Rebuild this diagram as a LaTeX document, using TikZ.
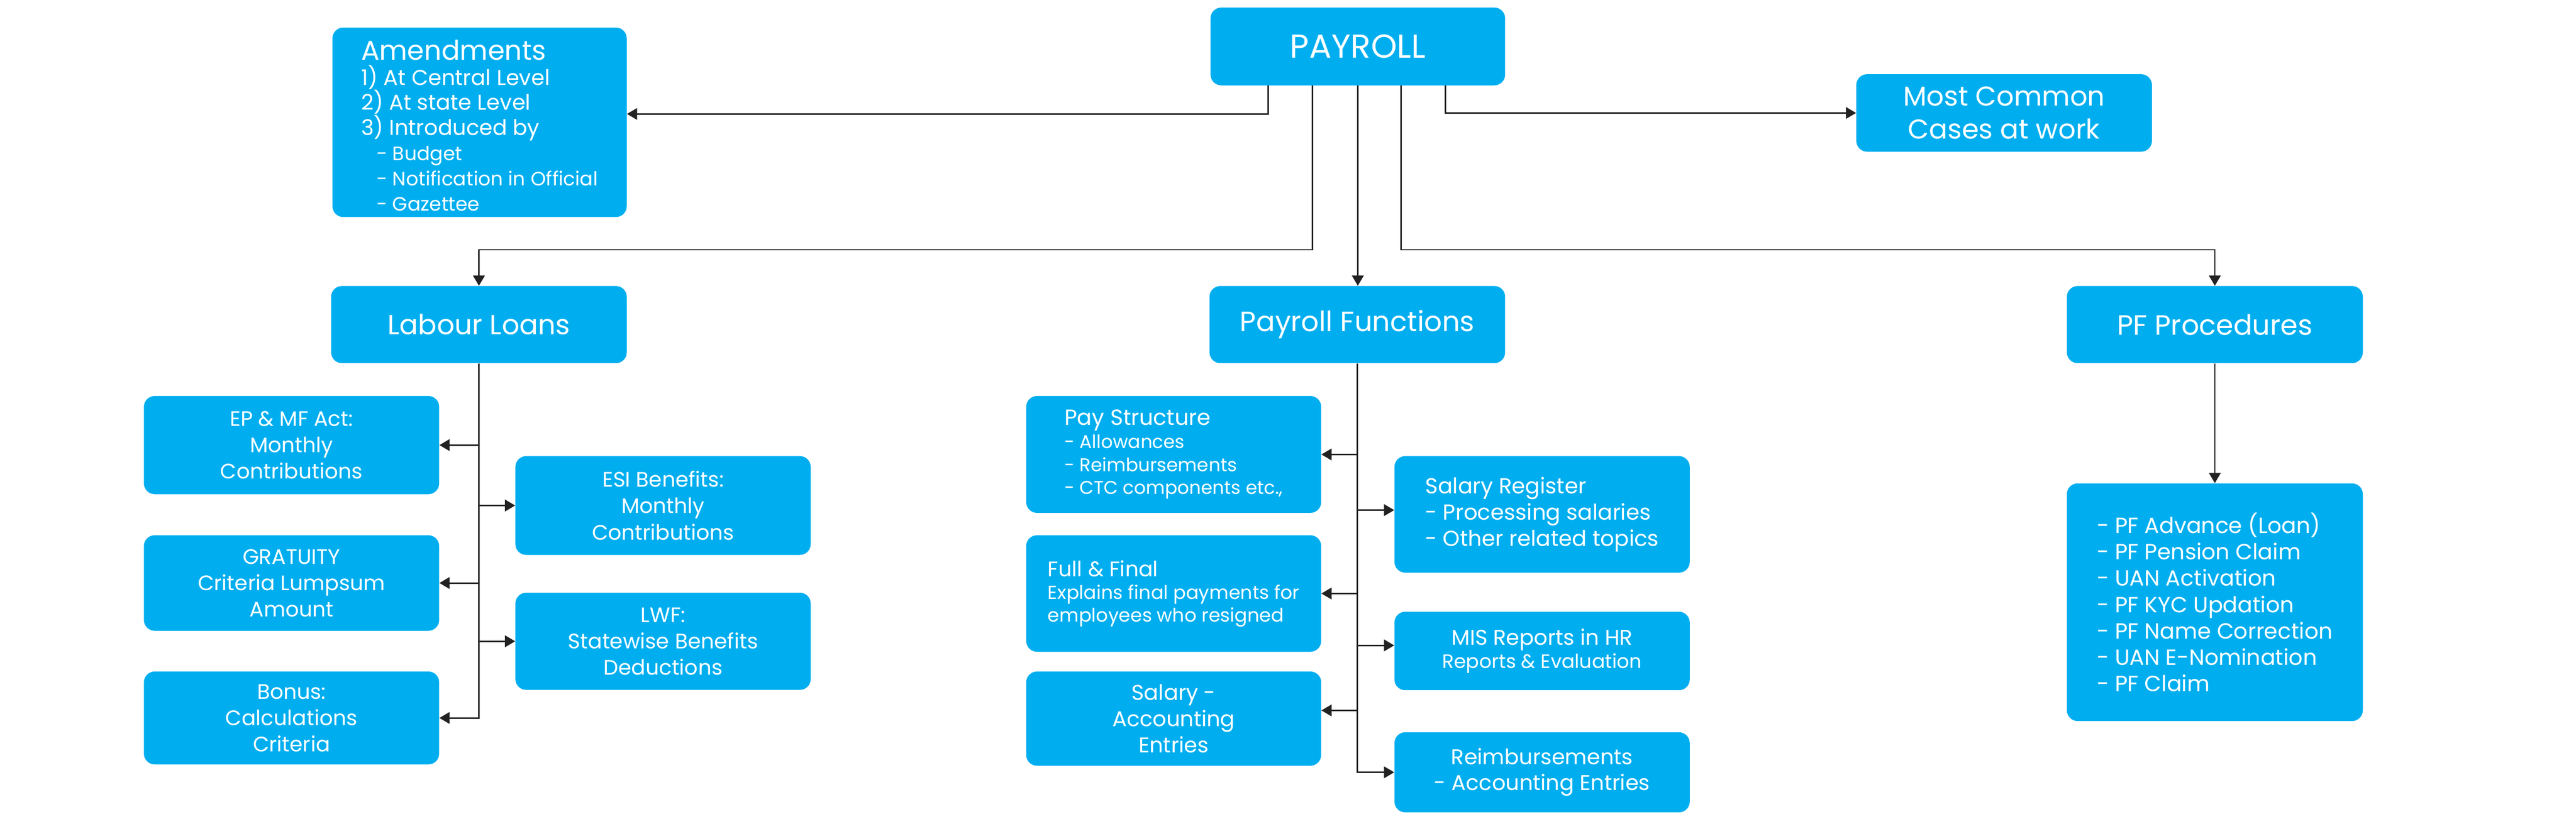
\documentclass[tikz,border=0pt]{standalone}
\usepackage{fontspec}
\setmainfont{Poppins}
\usetikzlibrary{arrows.meta}
\definecolor{boxblue}{HTML}{00AEEF}
\definecolor{linegray}{HTML}{222222}
\newcommand\fsz[2]{\fontsize{#1pt}{#2pt}\selectfont}

\begin{document}
\begin{tikzpicture}
  \tikzset{BoxStyle/.style = {
  shape = rectangle,
  rounded corners = 0.33cm,
  fill = boxblue,
  text = white,
  inner sep = 0pt,
  align = center},
  LinkStyle/.style = {
  draw = linegray,
  line width = 1.3pt,
  -{Triangle[length=8.8pt, width=10pt]}}}
  \useasboundingbox (0,0) rectangle (78.42,-25.09);
  % top row
  \node[BoxStyle, minimum width=8.97cm, minimum height=2.37cm, font=\fsz{28.7}{34}] (payroll) at (41.335,-1.415) {PAYROLL};
  \node[BoxStyle, align=left, minimum width=8.96cm, minimum height=5.77cm, font=\fsz{16.8}{21.8}] (amend) at (14.60,-3.725)
    {{\fsz{23.5}{21.8}\rule{0pt}{0.8cm}Amendments}\\{\fsz{18.6}{21.8}1) At Central Level}\\{\fsz{18.6}{21.8}2) At state Level}\\
     {\fsz{18.6}{21.8}3) Introduced by}\\\hspace*{0.47cm}- Budget\\\hspace*{0.47cm}- Notification in Official\\\hspace*{0.47cm}- Gazettee};
  \node[BoxStyle, minimum width=9.0cm, minimum height=2.36cm, font=\fsz{23.6}{28.5}] (cases) at (61.01,-3.44) {Most Common\\Cases at work};
  % second row
  \node[BoxStyle, minimum width=9.0cm, minimum height=2.35cm, font=\fsz{23.9}{29}] (labour) at (14.58,-9.885) {Labour Loans};
  \node[BoxStyle, minimum width=9.0cm, minimum height=2.35cm, font=\fsz{24.2}{29}] (pfunc) at (41.32,-9.885) {Payroll Functions};
  \node[BoxStyle, minimum width=9.01cm, minimum height=2.35cm, font=\fsz{24.2}{29}] (pfproc) at (67.425,-9.885) {PF Procedures};
  \node[BoxStyle, align=left, minimum width=9.01cm, minimum height=7.24cm, font=\fsz{19}{22.8}] (pflist) at (67.425,-18.34)
    {- PF Advance (Loan)\\- PF Pension Claim\\- UAN Activation\\- PF KYC Updation\\- PF Name Correction\\- UAN E-Nomination\\- PF Claim};
  % labour loans
  \node[BoxStyle, minimum width=8.99cm, minimum height=2.99cm, font=\fsz{18.2}{22.8}] (epmf) at (8.875,-13.555) {EP \& MF Act:\\Monthly\\Contributions};
  \node[BoxStyle, minimum width=8.99cm, minimum height=3.01cm, font=\fsz{18.2}{22.8}] (esi) at (20.185,-15.395) {ESI Benefits:\\Monthly\\Contributions};
  \node[BoxStyle, minimum width=8.99cm, minimum height=2.91cm, font=\fsz{18.2}{22.8}] (grat) at (8.875,-17.755) {GRATUITY\\Criteria Lumpsum\\Amount};
  \node[BoxStyle, minimum width=8.99cm, minimum height=2.96cm, font=\fsz{18.2}{22.8}] (lwf) at (20.185,-19.53) {LWF:\\Statewise Benefits\\Deductions};
  \node[BoxStyle, minimum width=8.99cm, minimum height=2.83cm, font=\fsz{18.2}{22.8}] (bonus) at (8.875,-21.865) {Bonus:\\Calculations\\Criteria};
  % payroll functions
  \node[BoxStyle, align=left, minimum width=8.98cm, minimum height=3.56cm, font=\fsz{16}{19.9}] (pays) at (35.73,-13.84)
    {{\fsz{19}{19.9}Pay Structure}\\- Allowances\\- Reimbursements\\- CTC components etc.,};
  \node[BoxStyle, align=left, minimum width=8.99cm, minimum height=3.55cm, font=\fsz{18.8}{22.8}] (salreg) at (46.945,-15.665)
    {Salary Register\\- Processing salaries\\- Other related topics};
  \node[BoxStyle, align=left, minimum width=8.98cm, minimum height=3.55cm, font=\fsz{16.3}{19.6}] (fnf) at (35.73,-18.075)
    {{\fsz{18.3}{19.6}Full \& Final}\\Explains final payments for\\employees who resigned};
  \node[BoxStyle, minimum width=8.99cm, minimum height=2.39cm, font=\fsz{18.5}{20.2}] (mis) at (46.945,-19.825)
    {MIS Reports in HR\\{\fsz{16.8}{20.2}Reports \& Evaluation}};
  \node[BoxStyle, minimum width=8.98cm, minimum height=2.87cm, font=\fsz{18.5}{22.8}] (salacc) at (35.73,-21.885) {Salary -\\Accounting\\Entries};
  \node[BoxStyle, minimum width=8.99cm, minimum height=2.44cm, font=\fsz{18.5}{22.2}] (reimb) at (46.945,-23.52) {Reimbursements\\- Accounting Entries};
  % links from the top
  \draw[LinkStyle] ([xshift=-2.735cm]payroll.south) |- ([yshift=0.255cm]amend.east);
  \draw[LinkStyle] ([xshift=-1.385cm]payroll.south) -- ++(0,-5.0) -| (labour.north);
  \draw[LinkStyle] (payroll.south) -- (payroll.south |- pfunc.north);
  \draw[LinkStyle] ([xshift=1.315cm]payroll.south) -- ++(0,-5.0) -| (pfproc.north);
  \draw[LinkStyle] ([xshift=2.665cm]payroll.south) |- (cases.west);
  % branches
  \draw[LinkStyle] (labour.south) |- (epmf.east);
  \draw[LinkStyle] (labour.south) |- (esi.west);
  \draw[LinkStyle] (labour.south) |- (grat.east);
  \draw[LinkStyle] (labour.south) |- (lwf.west);
  \draw[LinkStyle] (labour.south) |- (bonus.east);
  \draw[LinkStyle] (pfunc.south) |- (pays.east);
  \draw[LinkStyle] (pfunc.south) |- ([yshift=0.13cm]salreg.west);
  \draw[LinkStyle] (pfunc.south) |- (fnf.east);
  \draw[LinkStyle] (pfunc.south) |- ([yshift=0.17cm]mis.west);
  \draw[LinkStyle] (pfunc.south) |- ([yshift=0.25cm]salacc.east);
  \draw[LinkStyle] (pfunc.south) |- (reimb.west);
  \draw[LinkStyle] (pfproc.south) -- (pflist.north);
\end{tikzpicture}
\end{document}
